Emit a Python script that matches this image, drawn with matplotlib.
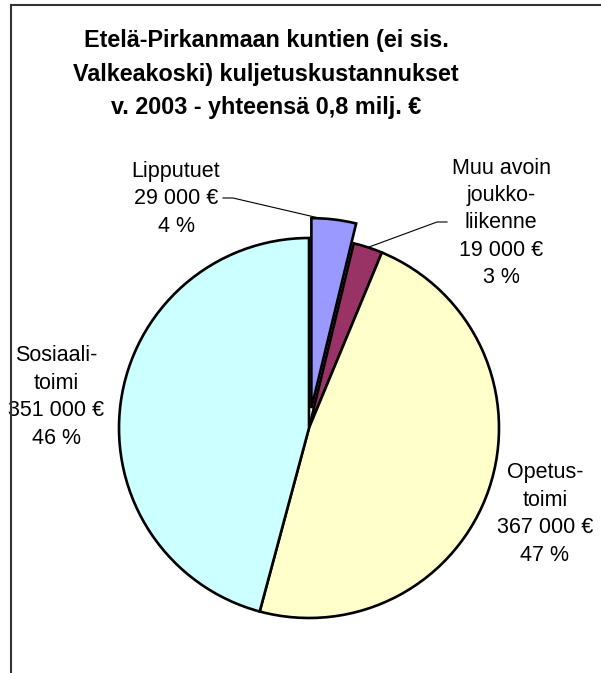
import matplotlib
matplotlib.use("Agg")
import matplotlib.pyplot as plt
from matplotlib.lines import Line2D
import numpy as np

plt.rcParams["font.family"] = ["Liberation Sans", "DejaVu Sans"]

# data
categories = ["Lipputuet", "Muu avoin\njoukko-\nliikenne", "Opetus-\ntoimi", "Sosiaali-\ntoimi"]
values = [29000, 19000, 367000, 351000]
value_labels = ["29 000 €", "19 000 €", "367 000 €", "351 000 €"]
pct_labels = ["4 %", "3 %", "47 %", "46 %"]
colors = ["#9999FF", "#993366", "#FFFFCC", "#CCFFFF"]

TITLE = "Etelä-Pirkanmaan kuntien (ei sis.\nValkeakoski) kuljetuskustannukset\nv. 2003 - yhteensä 0,8 milj. €"

W, H = 601, 673
fig = plt.figure(figsize=(W / 100, H / 100), dpi=100)
ax = fig.add_axes([0, 0, 1, 1])

# pie in pixel-like data coords (y up); explode is in data units here
cx, cy, R = 309, H - 428, 190
explode = [20, 0, 0, 0]
wedges, _ = ax.pie(values, colors=colors, explode=explode, startangle=90,
                   counterclock=False, center=(cx, cy), radius=R,
                   wedgeprops=dict(edgecolor="black", linewidth=1.9))
ax.set_xlim(0, W)
ax.set_ylim(0, H)
ax.set_aspect("auto")
ax.axis("off")

labels = [f"{c}\n{v}\n{p}" for c, v, p in zip(categories, value_labels, pct_labels)]
label_pos = [(176, H - 199), (501, H - 223), (545, H - 514), (56, H - 397)]
for lab, (tx, ty) in zip(labels, label_pos):
    ax.text(tx, ty, lab, ha="center", va="center", fontsize=15.5, linespacing=1.4)


def wedge_point(w, frac):
    ang = np.deg2rad(w.theta1 + frac * (w.theta2 - w.theta1))
    x0, y0 = w.center
    return x0 + w.r * np.cos(ang), y0 + w.r * np.sin(ang)


# leader lines
px, py = wedge_point(wedges[0], 0.8)
ax.plot([223, 233, px], [H - 198, H - 198, py], color="black", lw=0.8)
px, py = wedge_point(wedges[1], 0.5)
ax.plot([447, 437, px], [H - 222, H - 222, py], color="black", lw=0.8)

ax.text(266, H - 74, TITLE, ha="center", va="center", fontsize=16.8,
        fontweight="bold", linespacing=1.6)

# frame (left and top edges only visible)
fig.add_artist(Line2D([11 / W, 11 / W], [0, 1 - 5 / H], transform=fig.transFigure,
                      color="#333333", lw=1.5))
fig.add_artist(Line2D([11 / W, 1], [1 - 5 / H, 1 - 5 / H], transform=fig.transFigure,
                      color="#333333", lw=1.5))

fig.savefig("out.png", dpi=100)
